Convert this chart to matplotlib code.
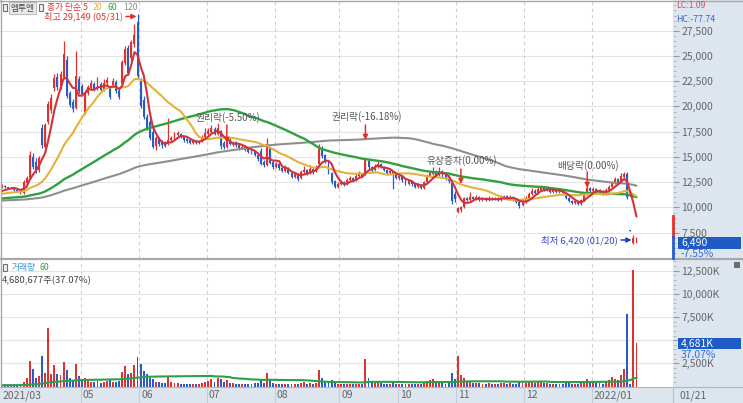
import numpy as np
import pandas as pd
import matplotlib
matplotlib.use("Agg")
import matplotlib.pyplot as plt
from matplotlib.patches import Rectangle
from matplotlib.lines import Line2D

plt.rcParams['font.family'] = ['Noto Sans CJK KR', 'DejaVu Sans']

# ---------------- data ----------------
month_names = ['2021/03', '04', '05', '06', '07', '08', '09', '10', '11', '12', '2022/01']
month_days = [4, 22, 19, 22, 22, 21, 19, 19, 22, 22, 15]
month_shown = [True, False, True, True, True, True, True, True, True, True, True]
last_date_label = '01/21'

opens = [
    12000, 12150, 12000, 11850,
    11950, 11750, 11650, 11400, 12400, 12900, 15000, 14500, 13700, 17900, 16000, 18500, 19600, 21800, 22900, 21900, 22900, 24600, 21300, 20400, 19800, 22700,
    22000, 19400, 21300, 21800, 22200, 21700, 22200, 21600, 22300, 21900, 22100, 22400, 21500, 22200, 24300, 25800, 24800, 26200, 28400,
    22500, 20600, 19000, 18500, 17500, 16100, 16900, 16500, 16500, 16300, 16700, 16900, 17200, 17300, 17000, 16800, 16700, 16400, 16600, 16400, 16600, 17000,
    17300, 17500, 17800, 17300, 17600, 16400, 16000, 16600, 16300, 16500, 16200, 15900, 16000, 15800, 15500, 15600, 15200, 15600, 14500, 14200, 15900, 14500,
    14000, 14300, 13900, 13600, 13900, 13400, 13000, 13300, 12900, 13500, 13700, 13400, 13800, 13600, 14300, 15900, 15200, 14500, 13400, 12600, 12000,
    12300, 12500, 12300, 12700, 12900, 12700, 13100, 13300, 13300, 14600, 14000, 13700, 14000, 14300, 14000, 13700, 13400, 13500, 13200,
    12900, 13100, 12700, 12300, 12600, 12300, 12000, 12200, 11900, 12500, 13100, 13300, 13600, 13200, 13600, 13300, 12900, 12400, 11300,
    9600, 9700, 10000, 10900, 10700, 11000, 10800, 11000, 10700, 10900, 10700, 10900, 10800, 10900, 10700, 10900, 11100, 10800, 11000, 10800, 10500, 10200,
    10500, 10900, 11300, 11600, 11400, 11700, 12000, 11700, 11900, 11500, 11800, 11500, 11700, 11300, 10900, 10600, 10400, 10600, 10300, 10700, 11300, 11900,
    11600, 11800, 11400, 11600, 11300, 11700, 12000, 12400, 12800, 12500, 13000, 13300, 7750, 6500, 6450,
]
highs = [
    12300, 12200, 12050, 12050,
    12000, 11800, 11700, 12700, 13100, 15600, 15400, 14900, 15100, 18300, 18400, 20500, 21200, 23200, 23300, 23500, 26500, 25000, 21500, 20700, 25500, 23000,
    22200, 21500, 22100, 22600, 22400, 22900, 22400, 22700, 22900, 22000, 22800, 22600, 21700, 24600, 26000, 26100, 26600, 28200, 29149,
    22800, 21000, 19300, 18900, 17900, 17100, 17000, 16700, 16600, 18900, 17100, 17500, 17600, 17400, 17100, 16900, 16800, 16800, 16700, 16700, 17200, 17900,
    17900, 18200, 18000, 18400, 17700, 16600, 16800, 16900, 16600, 16600, 16300, 16200, 16100, 15900, 15800, 15700, 15300, 15900, 14700, 16900, 16000, 14600,
    14500, 14400, 14000, 14200, 14000, 13500, 13500, 13400, 13700, 14100, 13800, 14200, 13900, 14200, 16300, 16100, 15300, 14600, 13500, 12700, 12500,
    12700, 12600, 12900, 13100, 13000, 13300, 13600, 13400, 14900, 14700, 14100, 14300, 14700, 14400, 14100, 13800, 13800, 13600, 13300,
    13200, 13200, 12800, 12800, 12700, 12400, 12400, 12300, 12600, 13300, 13600, 14000, 13700, 14000, 13700, 13400, 13100, 12500, 11600,
    10000, 10100, 11000, 11000, 11500, 11100, 11200, 11100, 11000, 11000, 11100, 11000, 11000, 11000, 11200, 11200, 11200, 11200, 11100, 10900, 10600, 10700,
    11100, 11500, 11900, 11800, 12000, 12200, 12100, 12100, 12000, 11900, 11900, 11800, 11800, 11400, 11000, 10700, 10700, 10700, 10800, 11500, 12100, 12000,
    12000, 11900, 11800, 11700, 11900, 12200, 12600, 13000, 12900, 13400, 13500, 13500, 7750, 7300, 7100,
]
lows = [
    11900, 11950, 11850, 11800,
    11600, 11500, 11350, 11300, 12300, 12800, 13800, 13400, 13500, 15900, 15900, 18300, 19400, 21500, 21600, 21700, 22700, 20800, 19900, 19500, 19700, 21300,
    21000, 19300, 21100, 21600, 21500, 21600, 21400, 21500, 22100, 20700, 22000, 21300, 20700, 22000, 24100, 23100, 24500, 25900, 22800,
    19800, 18800, 17700, 16700, 15900, 15700, 16100, 15900, 16000, 16200, 16600, 16800, 17100, 16900, 16500, 16400, 16300, 16300, 16300, 16300, 16500, 16900,
    17200, 17400, 17200, 17200, 15800, 15800, 15900, 16200, 16100, 16000, 15700, 15800, 15600, 15400, 15300, 15100, 14600, 14200, 14000, 14100, 14300, 13800,
    13900, 13700, 13500, 13500, 13300, 12900, 12900, 12600, 12800, 13400, 13200, 13300, 13300, 13500, 14200, 14900, 14400, 13300, 12300, 11900, 11900,
    12200, 12100, 12200, 12600, 12500, 12600, 13000, 13000, 13200, 13800, 13500, 13600, 13900, 13900, 13600, 13300, 13300, 11800, 12800,
    12700, 12500, 12200, 12200, 12100, 11900, 11900, 11800, 11800, 12400, 13000, 13200, 13100, 13100, 13000, 12700, 12400, 10300, 10500,
    9500, 9600, 9900, 10600, 10600, 10700, 10700, 10600, 10600, 10600, 10600, 10700, 10700, 10600, 10600, 10800, 10700, 10700, 10600, 10400, 9900, 10100,
    10400, 10800, 11200, 11300, 11300, 11600, 11600, 11600, 11400, 11400, 11400, 11400, 11300, 10800, 10500, 10300, 10300, 10200, 10200, 10600, 11200, 11400,
    11500, 11300, 11300, 11200, 11200, 11600, 11900, 12300, 12400, 12400, 12900, 10800, 7700, 6420, 6440,
]
closes = [
    12150, 12000, 11900, 11950,
    11700, 11600, 11500, 12500, 12900, 15200, 14000, 13600, 14900, 16200, 18200, 20200, 20800, 22800, 21900, 23200, 25200, 21000, 20100, 19700, 23000, 21500,
    21200, 21300, 21900, 22300, 21700, 22200, 21600, 22300, 22600, 20900, 22500, 21500, 20900, 24400, 25700, 23300, 26400, 27100, 23000,
    20000, 19000, 17900, 16900, 16000, 16900, 16300, 16200, 16100, 16700, 16900, 17300, 17400, 17000, 16700, 16600, 16400, 16600, 16400, 16600, 17000, 17400,
    17600, 17900, 17300, 17900, 16100, 16000, 16600, 16300, 16500, 16200, 15900, 16000, 15700, 15500, 15700, 15200, 14800, 14300, 14200, 16300, 14400, 14000,
    14300, 13900, 13600, 13900, 13400, 13000, 13300, 12800, 13500, 13700, 13400, 13800, 13500, 14000, 15900, 15100, 14600, 13500, 12500, 12000, 12300,
    12500, 12300, 12700, 12900, 12700, 13100, 13300, 13100, 14800, 14000, 13700, 14100, 14300, 14000, 13700, 13400, 13600, 13200, 12900,
    13100, 12700, 12300, 12600, 12300, 12000, 12200, 11900, 12500, 13100, 13400, 13600, 13200, 13600, 13300, 12900, 12600, 10600, 10800,
    9900, 10000, 10900, 10700, 11000, 10800, 11000, 10700, 10900, 10700, 10900, 10800, 10900, 10700, 11000, 11100, 10800, 11000, 10800, 10500, 10100, 10600,
    10900, 11300, 11600, 11400, 11800, 12000, 11700, 11900, 11500, 11800, 11500, 11700, 11400, 10900, 10600, 10400, 10600, 10300, 10700, 11300, 11900, 11600,
    11800, 11400, 11600, 11300, 11700, 12000, 12400, 12800, 12500, 13100, 13300, 11000, 7700, 7020, 6490,
]
volumes_k = [
    180, 150, 120, 140,
    120, 110, 130, 500, 900, 2800, 1900, 900, 1100, 3300, 1500, 6300, 1300, 2300, 1400, 1200, 2600, 1800, 900, 700, 2400, 1100,
    700, 900, 600, 500, 450, 600, 400, 500, 550, 700, 450, 500, 600, 1600, 2200, 1400, 1500, 2300, 3200,
    2400, 1700, 1300, 900, 800, 500, 450, 400, 350, 1100, 450, 350, 400, 300, 300, 250, 250, 250, 250, 300, 350, 500,
    600, 800, 500, 900, 800, 500, 700, 400, 350, 300, 300, 250, 300, 250, 300, 350, 400, 800, 400, 1500, 700, 400,
    300, 250, 250, 300, 250, 300, 250, 300, 400, 500, 300, 350, 250, 400, 1800, 900, 500, 600, 700, 500, 300,
    300, 250, 300, 250, 250, 300, 250, 250, 3000, 900, 500, 400, 500, 350, 300, 250, 300, 600, 300,
    250, 300, 250, 250, 250, 250, 250, 300, 400, 600, 700, 800, 400, 500, 350, 300, 400, 1500, 800,
    3300, 1200, 900, 500, 600, 400, 400, 350, 300, 300, 350, 300, 300, 300, 400, 400, 300, 350, 300, 300, 500, 350,
    400, 500, 600, 400, 500, 600, 400, 350, 300, 300, 300, 300, 300, 400, 500, 300, 250, 300, 400, 600, 800, 500,
    400, 350, 400, 300, 500, 700, 1000, 800, 700, 1200, 1900, 7800, 300, 12626, 4681,
]
# estimated closes / volumes before the visible window (10-day blocks), used only for moving averages
pre_close_blocks = [10300, 10400, 10500, 10600, 10600, 10500, 10400, 10600, 10700, 10900, 11100, 11500]
pre_volume_blocks = [150, 140, 130, 150, 160, 150]

ma_periods = [120, 60, 20, 5]
ma_colors = ['#8e8e8e', '#30a040', '#e3b23c', '#d0343a']

events = [(73, '권리락(-5.50%)'), (118, '권리락(-16.18%)'), (149, '유상증자(0.00%)'), (190, '배당락(0.00%)')]
high_idx, high_text = 44, '최고 29,149 (05/31)'
low_idx, low_text = 205, '최저 6,420 (01/20)'
last_price_text, last_change_text = '6,490', '-7.55%'
last_vol_text, last_vol_change = '4,681K', '37.07%'
vol_info_text = '4,680,677주(37.07%)'

# ---------------- layout ----------------
W, H = 743, 403
X0, S = 2.0, 3.08           # pixel of first candle, pixel step per candle
AXR = 673                   # right edge of plot area (px)
def fx(px): return px / W
def fy(py): return 1 - py / H
def pidx(px): return (px - X0) / S
P_TOP, P_PER = 30.7, 99.0   # price at pixel: 27500 at y=30.7, 99 per px
def pprice(py): return 27500 - (py - P_TOP) * P_PER

RED = '#e0322c'
BLUE = '#2a5cc8'
PANEL = '#dde5ef'
GRID = '#e4e4e4'
TXT = '#666666'
SMALL = 6.3

fig = plt.figure(figsize=(W / 100, H / 100), dpi=100)
fig.patch.set_facecolor('white')
fig.patches.append(Rectangle((fx(AXR), 0), 1 - fx(AXR), 1, transform=fig.transFigure,
                             facecolor=PANEL, edgecolor='none', zorder=-2))
fig.patches.append(Rectangle((0, 0), 1, fy(387), transform=fig.transFigure,
                             facecolor=PANEL, edgecolor='none', zorder=-2))

ax = fig.add_axes([0, fy(258), fx(AXR), fy(0) - fy(258)])
axv = fig.add_axes([0, fy(386.5), fx(AXR), fy(260) - fy(386.5)])

n = len(closes)
x = np.arange(n)
o = np.array(opens, float); c = np.array(closes, float)
h = np.array(highs, float); l = np.array(lows, float)
vol = np.array(volumes_k, float) * 1000
up = c >= o
cols = np.where(up, RED, BLUE)

xl = (pidx(0), pidx(AXR))
for a in (ax, axv):
    a.set_xlim(*xl)
    a.set_facecolor('white')
    for sp in a.spines.values():
        sp.set_visible(False)
    a.set_xticks([])

# month boundaries
starts = np.cumsum([0] + month_days[:-1])
bounds = starts - 0.5

# price panel
ax.set_ylim(pprice(258), pprice(0))
yt = np.arange(7500, 30000, 2500)
ax.set_yticks(yt)
ax.set_yticklabels([f'{v:,}' for v in yt])
ax.set_yticks(np.arange(5000, 30500, 500), minor=True)
ax.yaxis.tick_right()
ax.tick_params(axis='y', which='major', length=4, width=0.8, color='#9a9a9a', pad=2,
               labelsize=7.5, labelcolor=TXT)
ax.tick_params(axis='y', which='minor', length=2, width=0.6, color='#b0b0b0')
for v in yt:
    ax.axhline(v, color=GRID, lw=0.8, zorder=0)
for b, shown in zip(bounds[1:], month_shown[1:]):
    if shown:
        ax.axvline(b, color='#cfcfcf', lw=0.8, ls=(0, (3, 3)), zorder=0)
        axv.axvline(b, color='#cfcfcf', lw=0.8, ls=(0, (3, 3)), zorder=0)

ax.vlines(x, l, h, colors=cols, lw=0.9, zorder=2)
body_b = np.minimum(o, c)
body_h = np.maximum(np.abs(c - o), 70)
ax.bar(x, body_h, bottom=body_b, width=0.62, color=cols, linewidth=0, zorder=2)

full_close = np.concatenate([np.repeat(pre_close_blocks, 10), c])
for p, col in zip(ma_periods, ma_colors):
    ma = pd.Series(full_close).rolling(p).mean().values[-n:]
    ax.plot(x, ma, color=col, lw=1.5 if p != 60 else 1.7, zorder=3, solid_capstyle='round')

# event markers
ev_text_y = {73: 118, 118: 117, 149: 161, 190: 166}
ev_arrow = {73: (125, 143), 118: (125, 140), 149: (169, 184), 190: (172, 188)}
for i, lab in events:
    ty = ev_text_y[i]
    a0, a1 = ev_arrow[i]
    ax.text(i + 0.3, pprice(ty), lab, ha='center', va='center', fontsize=7, color='#555555', zorder=4)
    ax.annotate('', xy=(i, pprice(a1)), xytext=(i, pprice(a0)),
                arrowprops=dict(arrowstyle='-|>', color=RED, lw=1.1, mutation_scale=7,
                                shrinkA=0, shrinkB=0), zorder=4)

# high / low labels
ax.text(pidx(123), pprice(16.5), high_text, ha='right', va='center', fontsize=6.6, color=RED, zorder=4)
ax.annotate('', xy=(high_idx - 0.3, pprice(16.5)), xytext=(pidx(126), pprice(16.5)),
            arrowprops=dict(arrowstyle='-|>', color=RED, lw=1.1, mutation_scale=7, shrinkA=0, shrinkB=0))
ax.text(pidx(618), pprice(240), low_text, ha='right', va='center', fontsize=6.8, color='#3548c0', zorder=4)
ax.annotate('', xy=(low_idx - 0.6, pprice(240)), xytext=(pidx(621), pprice(240)),
            arrowprops=dict(arrowstyle='-|>', color='#1f3fc8', lw=1.1, mutation_scale=7, shrinkA=0, shrinkB=0))

# volume panel
vmax = (386.5 - 260) / 23.15 * 2500e3
axv.set_ylim(0, vmax)
vt = np.arange(2500e3, 13000e3, 2500e3)
axv.set_yticks(vt)
# the 5,000K label is covered by the last-volume box in the reference
axv.set_yticklabels(['' if v == 5000e3 else f'{int(v/1000):,}K' for v in vt])
axv.set_yticks(np.arange(0, vmax, 500e3), minor=True)
axv.yaxis.tick_right()
axv.tick_params(axis='y', which='major', length=4, width=0.8, color='#9a9a9a', pad=2,
                labelsize=7.5, labelcolor=TXT)
axv.tick_params(axis='y', which='minor', length=2, width=0.6, color='#b0b0b0')
for v in vt:
    axv.axhline(v, color=GRID, lw=0.8, zorder=0)
axv.bar(x, vol, width=0.62, color=cols, linewidth=0, zorder=2)
full_vol = np.concatenate([np.repeat(pre_volume_blocks, 10) * 1000.0, vol])
vma = pd.Series(full_vol).rolling(60).mean().values[-n:]
axv.plot(x, vma, color='#2f9e48', lw=1.5, zorder=3)

# frame lines
def hline(py, x0, x1, col, lw):
    fig.add_artist(Line2D([fx(x0), fx(x1)], [fy(py), fy(py)], transform=fig.transFigure, color=col, lw=lw))
def vline(px, y0, y1, col, lw):
    fig.add_artist(Line2D([fx(px), fx(px)], [fy(y0), fy(y1)], transform=fig.transFigure, color=col, lw=lw))

hline(0.5, 0, W, '#a8a8a8', 1.0)
hline(259.2, 0, W, '#a8a8a8', 1.6)
hline(387, 0, W, '#b4b4b4', 0.8)
vline(0.5, 0, 387, '#a8a8a8', 1.0)
vline(AXR, 387, 403, '#b4bfcc', 0.8)

# x-axis band labels
for b, lab, shown in zip(bounds, month_names, month_shown):
    if not shown:
        continue
    px = X0 + b * S
    if px > 1:
        vline(px, 387, 403, '#c3ccd8', 0.8)
    fig.text(fx(max(px, 0) + 2), fy(395.5), lab, fontsize=7.5, color=TXT, va='center', ha='left')
fig.text(fx(680), fy(395.5), last_date_label, fontsize=7.5, color=TXT, va='center', ha='left')

# legend header (price)
fig.patches.append(Rectangle((fx(3), fy(11)), fx(4), fy(4) - fy(11), transform=fig.transFigure,
                             facecolor='#f0f0f0', edgecolor='#707070', lw=0.8))
fig.patches.append(Rectangle((fx(9), fy(14)), fx(27), fy(2) - fy(14), transform=fig.transFigure,
                             facecolor='#e9e9e9', edgecolor='#bdbdbd', lw=0.8))
fig.text(fx(22.5), fy(8), '엠투엔', fontsize=SMALL, color='#444444', ha='center', va='center')
fig.patches.append(Rectangle((fx(39), fy(11)), fx(4), fy(4) - fy(11), transform=fig.transFigure,
                             facecolor='#f0f0f0', edgecolor='#707070', lw=0.8))
fig.text(fx(47), fy(7.5), '종가 단순 5', fontsize=SMALL, color='#d0343a', ha='left', va='center')
fig.text(fx(93), fy(7.5), '20', fontsize=SMALL, color='#e3b23c', ha='left', va='center')
fig.text(fx(107), fy(7.5), '60', fontsize=SMALL, color='#30a040', ha='left', va='center')
fig.text(fx(123), fy(7.5), '120', fontsize=SMALL, color='#8e8e8e', ha='left', va='center')

# legend header (volume)
fig.patches.append(Rectangle((fx(3), fy(271)), fx(4), fy(264) - fy(271), transform=fig.transFigure,
                             facecolor='#f0f0f0', edgecolor='#707070', lw=0.8))
fig.text(fx(12), fy(267.5), '거래량', fontsize=SMALL, color='#3a94c8', ha='left', va='center')
fig.text(fx(39), fy(267.5), '60', fontsize=SMALL, color='#30a040', ha='left', va='center')
fig.text(fx(2), fy(280.5), vol_info_text, fontsize=6.8, color='#444444', ha='left', va='center')
fig.patches.append(Rectangle((fx(734), fy(268)), fx(6), fy(262) - fy(268), transform=fig.transFigure,
                             facecolor='#6e6e6e', edgecolor='none'))

# right panel info
fig.text(fx(676), fy(6), 'LC:1.09', fontsize=SMALL, color='#e04b4b', ha='left', va='center')
fig.text(fx(676), fy(19.5), 'HC:-77.74', fontsize=SMALL, color='#3f64cc', ha='left', va='center')

fig.patches.append(Rectangle((fx(678), fy(248.5)), fx(63), fy(237) - fy(248.5), transform=fig.transFigure,
                             facecolor='#1f5bc6', edgecolor='none', zorder=5))
fig.text(fx(681), fy(242.5), last_price_text, fontsize=7.5, color='white', ha='left', va='center', zorder=6)
fig.text(fx(681), fy(254), last_change_text, fontsize=7.5, color='#2f6fd6', ha='left', va='center', zorder=6)

fig.patches.append(Rectangle((fx(678), fy(349)), fx(63), fy(338) - fy(349), transform=fig.transFigure,
                             facecolor='#1f5bc6', edgecolor='none', zorder=5))
fig.text(fx(681), fy(343.5), last_vol_text, fontsize=7.5, color='white', ha='left', va='center', zorder=6)
fig.text(fx(681), fy(355), last_vol_change, fontsize=7.5, color='#2f6fd6', ha='left', va='center', zorder=6)

# price range bar at the panel edge
vline(AXR - 0.5, 216, 237.5, RED, 2.0)
vline(AXR - 0.5, 237.5, 258, BLUE, 2.0)

fig.savefig('out.png', dpi=100, facecolor='white')
